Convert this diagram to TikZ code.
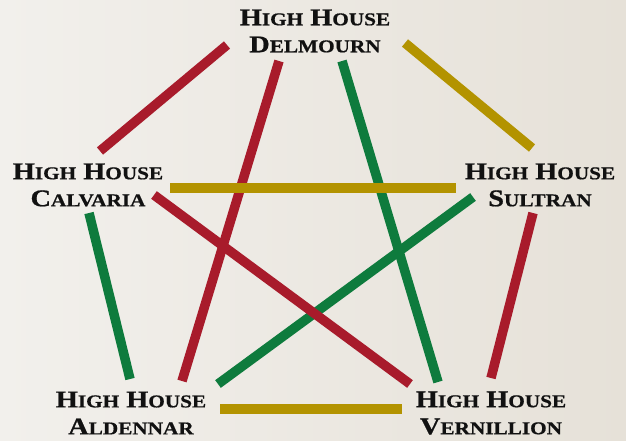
\documentclass[tikz,border=0pt]{standalone}
\usepackage{fontspec}
\newfontfamily\housefont[FakeStretch=1.18,FakeBold=0.8]{Liberation Serif Bold}
\newcommand\hc[2]{{\fontsize{24}{27}\selectfont #1}{\fontsize{18}{27}\selectfont #2}}
\definecolor{bgl}{HTML}{F2F0EC}
\definecolor{bgr}{HTML}{E6E1D8}
\definecolor{hred}{HTML}{A81B2B}
\definecolor{hgreen}{HTML}{0E7B3D}
\definecolor{hgold}{HTML}{B39300}
\definecolor{htext}{HTML}{111111}
\tikzset{
  house/.style={inner sep=0pt, align=center, text=htext, font=\housefont\fontsize{24}{27}\selectfont},
  link/.style={line width=9.5pt, line cap=butt},
  rlink/.style={link, draw=hred},
  glink/.style={link, draw=hgreen},
  ylink/.style={link, draw=hgold}
}
\begin{document}
\begin{tikzpicture}[x=1pt,y=-1pt]
\shade[left color=bgl, right color=bgr] (0,0) rectangle (626,440);
\useasboundingbox (0,0) rectangle (626,440);
% houses
\node[house] (delm) at (315,31) {\hc{H}{IGH} \hc{H}{OUSE}\\\hc{D}{ELMOURN}};
\node[house] (calv) at (88,185) {\hc{H}{IGH} \hc{H}{OUSE}\\\hc{C}{ALVARIA}};
\node[house] (sult) at (540,185) {\hc{H}{IGH} \hc{H}{OUSE}\\\hc{S}{ULTRAN}};
\node[house] (alde) at (131,413) {\hc{H}{IGH} \hc{H}{OUSE}\\\hc{A}{LDENNAR}};
\node[house] (vern) at (491,413) {\hc{H}{IGH} \hc{H}{OUSE}\\\hc{V}{ERNILLION}};
% endpoints
\coordinate (dC) at (227,45);   \coordinate (cD) at (100,151);
\coordinate (dA) at (279,61);   \coordinate (aD) at (182,381);
\coordinate (dV) at (342,61);   \coordinate (vD) at (438,382);
\coordinate (dS) at (405,43);   \coordinate (sD) at (532,148);
\coordinate (cS) at (170,188);  \coordinate (sC) at (456,188);
\coordinate (cV) at (154,195);  \coordinate (vC) at (410,384);
\coordinate (cA) at (89,213);   \coordinate (aC) at (130,379);
\coordinate (sA) at (473,197);  \coordinate (aS) at (218,384);
\coordinate (sV) at (533,213);  \coordinate (vS) at (491,378);
\coordinate (aV) at (220,409);  \coordinate (vA) at (402,409);
% green
\draw[glink] (dV) -- (vD);
\draw[glink] (cA) -- (aC);
\draw[glink] (sA) -- (aS);
% red
\draw[rlink] (dC) -- (cD);
\draw[rlink] (dA) -- (aD);
\draw[rlink] (cV) -- (vC);
\draw[rlink] (sV) -- (vS);
% gold
\draw[ylink] (dS) -- (sD);
\draw[ylink] (cS) -- (sC);
\draw[ylink] (aV) -- (vA);
\end{tikzpicture}
\end{document}
